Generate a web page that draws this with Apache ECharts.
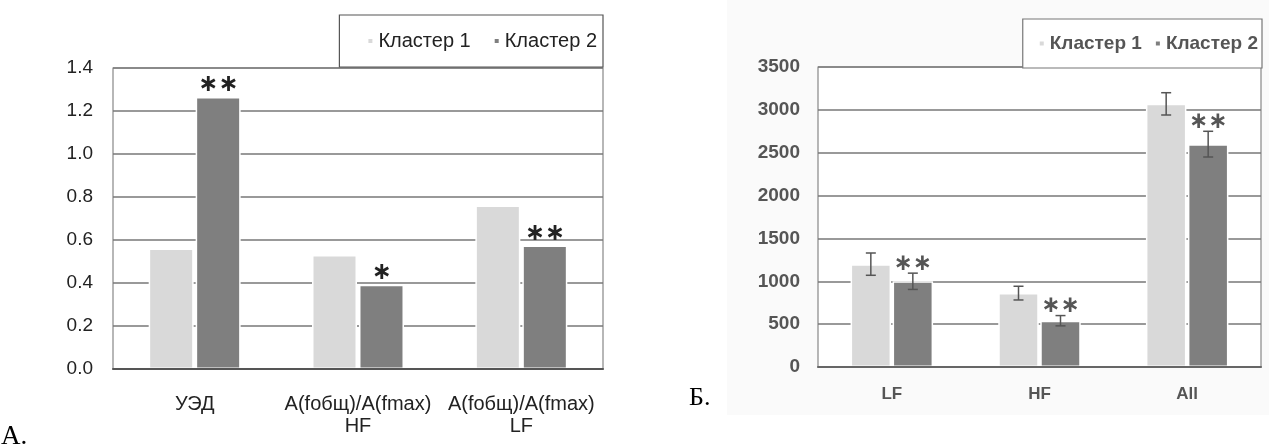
<!DOCTYPE html>
<html><head><meta charset="utf-8">
<script src="https://cdn.jsdelivr.net/npm/echarts@6/dist/echarts.min.js"></script>
<style>html,body{margin:0;padding:0;background:#fff}#c{width:1269px;height:448px}</style>
</head><body><div id="c"></div>
<script>
// ---- data ----
const seriesNames = ['Кластер 1', 'Кластер 2'];
const catsA = ['УЭД', 'A(fобщ)/A(fmax)\nHF', 'A(fобщ)/A(fmax)\nLF'];
const a1 = [0.56, 0.53, 0.76];
const a2 = [1.265, 0.392, 0.575];
const sigA = ['**', '*', '**'];
const ticksA = { min: 0, max: 1.4, interval: 0.2 };

const catsB = ['LF', 'HF', 'All'];
const b1 = [1200, 862, 3070];
const b2 = [1000, 540, 2600];
const b1err = [130, 80, 130];
const b2err = [95, 60, 150];
const sigB = ['**', '**', '**'];
const ticksB = { min: 0, max: 3500, interval: 500 };

// ---- styles ----
const LIGHT = '#d9d9d9', DARK = '#7f7f7f';
const FONT = 'Liberation Sans, Arial, sans-serif';
const star = s => s.replace(/\*/g, '\u2217');

const chart = echarts.init(document.getElementById('c'), null, { renderer: 'canvas' });

function errSeries(vals, errs, sigs, offset, name) {
  return {
    type: 'custom', name: name, xAxisIndex: 1, yAxisIndex: 1, z: 5,
    data: vals.map((v, i) => [i, v, errs[i]]),
    renderItem: function (params, api) {
      const i = api.value(0), v = api.value(1), e = api.value(2);
      const t = api.coord([i, v + e]), b = api.coord([i, v - e]);
      const x = t[0] + offset, cap = 5;
      const st = { stroke: '#555', lineWidth: 1.5 };
      const ch = [
        { type: 'line', shape: { x1: x, y1: t[1], x2: x, y2: b[1] }, style: st },
        { type: 'line', shape: { x1: x - cap, y1: t[1], x2: x + cap, y2: t[1] }, style: st },
        { type: 'line', shape: { x1: x - cap, y1: b[1], x2: x + cap, y2: b[1] }, style: st }
      ];
      if (sigs) {
        ch.push({ type: 'text', style: { text: star(sigs[params.dataIndex]), x: x, y: t[1] + 2,
          align: 'center', verticalAlign: 'bottom', fill: '#555', font: 'bold 23px DejaVu Sans' } });
      }
      return { type: 'group', children: ch };
    }
  };
}

const option = {
  backgroundColor: '#fff',
  animation: false,
  graphic: [
    { type: 'rect', shape: { x: 727, y: 0, width: 542, height: 415 }, style: { fill: '#fafafa' }, z: -10 },
    { type: 'text', left: 1, top: 423, style: { text: 'A.', font: '27px Liberation Serif', fill: '#000' } },
    { type: 'text', left: 689, top: 385, style: { text: 'Б.', font: '26px Liberation Serif', fill: '#000' } }
  ],
  legend: [
    { data: seriesNames, right: 666, top: 15, padding: [16, 6, 16, 27], itemGap: 22,
      borderColor: '#555', borderWidth: 1.2, backgroundColor: '#fff',
      icon: 'rect', itemWidth: 6, itemHeight: 6,
      textStyle: { fontFamily: FONT, fontSize: 20, color: '#222' } },
    { data: seriesNames, right: 7, top: 19, padding: [15, 4, 15, 15], itemGap: 12,
      borderColor: '#777', borderWidth: 1.2, backgroundColor: '#fff',
      icon: 'rect', itemWidth: 6, itemHeight: 6,
      textStyle: { fontFamily: FONT, fontSize: 19, fontWeight: 'bold', color: '#555' } }
  ],
  grid: [
    { left: 113, top: 68, width: 490, height: 301, show: true, borderColor: '#888', borderWidth: 1.2, backgroundColor: '#fff' },
    { left: 818, top: 67, width: 443, height: 300, show: true, borderColor: '#888', borderWidth: 1.2, backgroundColor: '#fff' }
  ],
  xAxis: [
    { type: 'category', gridIndex: 0, data: catsA, z: 6,
      axisLine: { lineStyle: { color: '#555', width: 2 } }, axisTick: { show: false },
      axisLabel: { fontFamily: FONT, fontSize: 20, color: '#222', margin: 24, lineHeight: 22, interval: 0 } },
    { type: 'category', gridIndex: 1, data: catsB, z: 6,
      axisLine: { lineStyle: { color: '#666', width: 2 } }, axisTick: { show: false },
      axisLabel: { fontFamily: FONT, fontSize: 17, fontWeight: 'bold', color: '#555', margin: 19 } }
  ],
  yAxis: [
    { type: 'value', gridIndex: 0, min: ticksA.min, max: ticksA.max, interval: ticksA.interval,
      axisLine: { show: false }, axisTick: { show: false },
      splitLine: { lineStyle: { color: '#777', width: 1.5 } },
      axisLabel: { fontFamily: FONT, fontSize: 19, color: '#222', margin: 20, formatter: v => v.toFixed(1) } },
    { type: 'value', gridIndex: 1, min: ticksB.min, max: ticksB.max, interval: ticksB.interval,
      axisLine: { show: false }, axisTick: { show: false },
      splitLine: { lineStyle: { color: '#777', width: 1.5 } },
      axisLabel: { fontFamily: FONT, fontSize: 19, fontWeight: 'bold', color: '#555', margin: 18, formatter: v => String(v) } }
  ],
  series: [
    { type: 'bar', name: seriesNames[0], xAxisIndex: 0, yAxisIndex: 0, data: a1,
      barWidth: 45, barGap: '4.4%', itemStyle: { color: LIGHT, borderColor: '#fff', borderWidth: 1.5 } },
    { type: 'bar', name: seriesNames[1], xAxisIndex: 0, yAxisIndex: 0, data: a2,
      barWidth: 45, barGap: '4.4%', itemStyle: { color: DARK, borderColor: '#fff', borderWidth: 1.5 },
      label: { show: true, position: 'top', distance: 0, formatter: p => star(sigA[p.dataIndex]),
        fontFamily: 'DejaVu Sans', fontWeight: 'bold', fontSize: 24, color: '#222' } },
    { type: 'bar', name: seriesNames[0], xAxisIndex: 1, yAxisIndex: 1, data: b1,
      barWidth: 40.5, barGap: '3.7%', itemStyle: { color: LIGHT, borderColor: '#fff', borderWidth: 1.5 } },
    { type: 'bar', name: seriesNames[1], xAxisIndex: 1, yAxisIndex: 1, data: b2,
      barWidth: 40.5, barGap: '3.7%', itemStyle: { color: DARK, borderColor: '#fff', borderWidth: 1.5 } },
    errSeries(b1, b1err, null, -21, seriesNames[0]),
    errSeries(b2, b2err, sigB, 21, seriesNames[1])
  ]
};
chart.setOption(option);
</script></body></html>
